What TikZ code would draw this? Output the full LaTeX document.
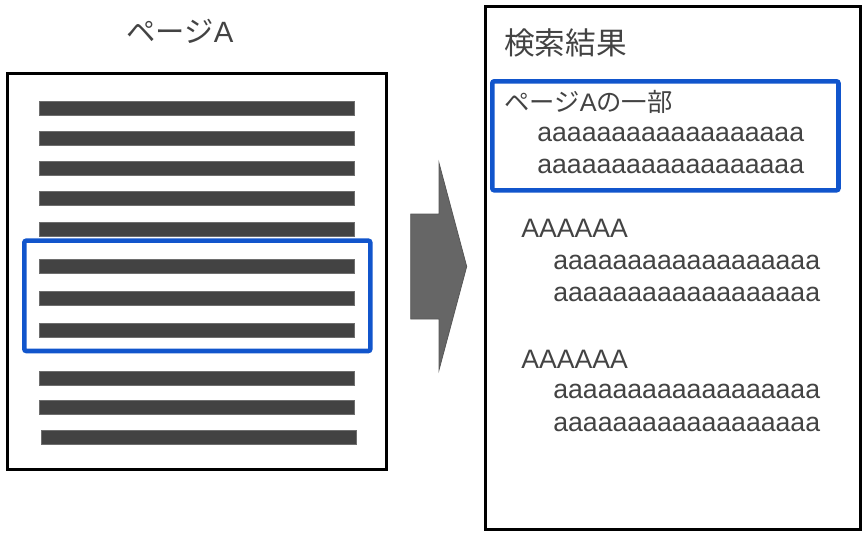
\documentclass[tikz,border=0pt]{standalone}
\usepackage{fontspec}
\setmainfont{Liberation Sans}
\newfontfamily\jp{Noto Sans CJK JP}
\definecolor{txtgray}{RGB}{67,67,67}
\definecolor{bargray}{RGB}{67,67,67}
\definecolor{baredge}{RGB}{110,110,110}
\definecolor{hlblue}{RGB}{17,85,204}
\definecolor{arrowgray}{RGB}{102,102,102}
\tikzset{
  txt/.style={anchor=base west, inner sep=0pt, text=txtgray, font=\fontsize{20pt}{24pt}\selectfont},
  bar/.style={fill=bargray, draw=baredge, line width=0.6pt},
  hlbox/.style={draw=hlblue, line width=3.4pt, rounded corners=1.5pt},
  pagebox/.style={draw=black, line width=1.6pt}
}
\begin{document}
\begin{tikzpicture}[x=0.75pt,y=0.75pt,yscale=-1,xscale=1]
\useasboundingbox (0,0) rectangle (865,535); %set diagram to the 865x535 frame

%Shape: Page A [id:pageA]
\draw [pagebox]  (7.5,73.5) rectangle (386.5,469.5) ;
%Shape: Text bars
\draw [bar]  (39,101) rectangle (354.5,115) ;
\draw [bar]  (39,131.5) rectangle (354.5,145.5) ;
\draw [bar]  (39,161.5) rectangle (354.5,175.5) ;
\draw [bar]  (39,191.5) rectangle (354.5,205.5) ;
\draw [bar]  (39,222) rectangle (354.5,236) ;
\draw [bar]  (39,259.5) rectangle (354.5,273.5) ;
\draw [bar]  (39,291.5) rectangle (354.5,305.5) ;
\draw [bar]  (39,323.5) rectangle (354.5,337.5) ;
\draw [bar]  (39,371) rectangle (354.5,385) ;
\draw [bar]  (39,400.5) rectangle (354.5,414.5) ;
\draw [bar]  (41,430) rectangle (356.5,444) ;
%Shape: Highlight on page A [id:hlA]
\draw [hlbox]  (24.3,240.7) rectangle (370.3,351) ;

%Shape: Right Arrow [id:arrow]
\draw [draw=arrowgray!85!black, fill=arrowgray, line width=0.6pt]  (410.7,214) -- (439,214) -- (439,163) -- (466.7,266.5) -- (439,370) -- (439,319) -- (410.7,319) -- cycle ;

%Shape: Result page [id:results]
\draw [pagebox]  (485.5,6.5) rectangle (860.5,529.5) ;
%Shape: Highlight on results [id:hlR]
\draw [hlbox]  (492.3,81.3) rectangle (838.5,190.3) ;

% Text Node
\node [anchor=base, inner sep=0pt, text=txtgray, font=\fontsize{22pt}{24pt}\selectfont] (titleA) at (180,43) {{\jp ページ}A};
% Text Node
\node [txt, font=\fontsize{23pt}{26pt}\selectfont] (titleR) at (504,55) {\jp 検索結果};
% Text Node
\node [txt, font=\fontsize{19pt}{24pt}\selectfont] (hitA) at (504,112) {{\jp ページ}A{\jp の一部}};
% Text Node
\node [txt] (hitAa) at (537,142) {aaaaaaaaaaaaaaaaaa};
% Text Node
\node [txt] (hitAb) at (537,174) {aaaaaaaaaaaaaaaaaa};
% Text Node
\node [txt] (hitB) at (521,238) {AAAAAA};
% Text Node
\node [txt] (hitBa) at (553,269) {aaaaaaaaaaaaaaaaaa};
% Text Node
\node [txt] (hitBb) at (553,301) {aaaaaaaaaaaaaaaaaa};
% Text Node
\node [txt] (hitC) at (521,368) {AAAAAA};
% Text Node
\node [txt] (hitCa) at (553,398) {aaaaaaaaaaaaaaaaaa};
% Text Node
\node [txt] (hitCb) at (553,431) {aaaaaaaaaaaaaaaaaa};

\end{tikzpicture}
\end{document}
